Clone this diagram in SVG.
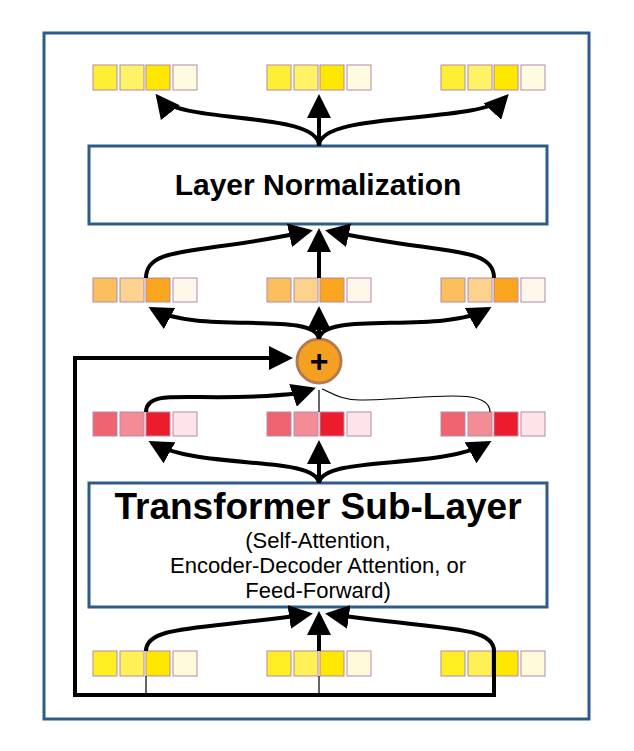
<svg xmlns="http://www.w3.org/2000/svg" width="634" height="751" viewBox="0 0 634 751">
<style>
.box{fill:#fff;stroke:#2e5c8a;stroke-width:3}
.sq{stroke:#b48aa8;stroke-width:1}
.c{fill:none;stroke:#000;stroke-width:4}
.t{fill:none;stroke:#000;stroke-width:1.2}
text{font-family:"Liberation Sans",Arial,sans-serif;fill:#000}
</style>
<defs>
<marker id="a" markerWidth="6" markerHeight="6" refX="5" refY="3" orient="auto" markerUnits="strokeWidth"><path d="M0,0 L6,3 L0,6 z" fill="#000"/></marker>
</defs>
<rect x="0" y="0" width="634" height="751" fill="#fff"/>
<rect class="box" x="44" y="33" width="545" height="686"/>
<g id="vectors">
<g id="top-row">
<rect class="sq" x="93" y="65" width="24" height="25" fill="#ffee33"/><rect class="sq" x="120" y="65" width="24" height="25" fill="#fff266"/><rect class="sq" x="146" y="65" width="24" height="25" fill="#ffe800"/><rect class="sq" x="173" y="65" width="24" height="25" fill="#fffbe0"/>
<rect class="sq" x="267" y="65" width="24" height="25" fill="#ffee33"/><rect class="sq" x="294" y="65" width="24" height="25" fill="#fff266"/><rect class="sq" x="320" y="65" width="24" height="25" fill="#ffe800"/><rect class="sq" x="347" y="65" width="24" height="25" fill="#fffbe0"/>
<rect class="sq" x="441" y="65" width="24" height="25" fill="#ffee33"/><rect class="sq" x="468" y="65" width="24" height="25" fill="#fff266"/><rect class="sq" x="494" y="65" width="24" height="25" fill="#ffe800"/><rect class="sq" x="521" y="65" width="24" height="25" fill="#fffbe0"/>
</g>
<g id="orange-row">
<rect class="sq" x="93" y="278" width="24" height="24" fill="#fbbf5e"/><rect class="sq" x="120" y="278" width="24" height="24" fill="#fdd28e"/><rect class="sq" x="146" y="278" width="24" height="24" fill="#f9a51e"/><rect class="sq" x="173" y="278" width="24" height="24" fill="#fff7ea"/>
<rect class="sq" x="267" y="278" width="24" height="24" fill="#fbbf5e"/><rect class="sq" x="294" y="278" width="24" height="24" fill="#fdd28e"/><rect class="sq" x="320" y="278" width="24" height="24" fill="#f9a51e"/><rect class="sq" x="347" y="278" width="24" height="24" fill="#fff7ea"/>
<rect class="sq" x="441" y="278" width="24" height="24" fill="#fbbf5e"/><rect class="sq" x="468" y="278" width="24" height="24" fill="#fdd28e"/><rect class="sq" x="494" y="278" width="24" height="24" fill="#f9a51e"/><rect class="sq" x="521" y="278" width="24" height="24" fill="#fff7ea"/>
</g>
<g id="red-row">
<rect class="sq" x="93" y="412" width="24" height="24" fill="#f06470"/><rect class="sq" x="120" y="412" width="24" height="24" fill="#f48c95"/><rect class="sq" x="146" y="412" width="24" height="24" fill="#ec1c2c"/><rect class="sq" x="173" y="412" width="24" height="24" fill="#fde4e8"/>
<rect class="sq" x="267" y="412" width="24" height="24" fill="#f06470"/><rect class="sq" x="294" y="412" width="24" height="24" fill="#f48c95"/><rect class="sq" x="320" y="412" width="24" height="24" fill="#ec1c2c"/><rect class="sq" x="347" y="412" width="24" height="24" fill="#fde4e8"/>
<rect class="sq" x="441" y="412" width="24" height="24" fill="#f06470"/><rect class="sq" x="468" y="412" width="24" height="24" fill="#f48c95"/><rect class="sq" x="494" y="412" width="24" height="24" fill="#ec1c2c"/><rect class="sq" x="521" y="412" width="24" height="24" fill="#fde4e8"/>
</g>
<g id="bottom-row">
<rect class="sq" x="93" y="651" width="24" height="25" fill="#ffee22"/><rect class="sq" x="120" y="651" width="24" height="25" fill="#fff055"/><rect class="sq" x="146" y="651" width="24" height="25" fill="#ffe800"/><rect class="sq" x="173" y="651" width="24" height="25" fill="#fffad8"/>
<rect class="sq" x="267" y="651" width="24" height="25" fill="#ffee22"/><rect class="sq" x="294" y="651" width="24" height="25" fill="#fff055"/><rect class="sq" x="320" y="651" width="24" height="25" fill="#ffe800"/><rect class="sq" x="347" y="651" width="24" height="25" fill="#fffad8"/>
<rect class="sq" x="441" y="651" width="24" height="25" fill="#ffee22"/><rect class="sq" x="468" y="651" width="24" height="25" fill="#fff055"/><rect class="sq" x="494" y="651" width="24" height="25" fill="#ffe800"/><rect class="sq" x="521" y="651" width="24" height="25" fill="#fffad8"/>
</g>
</g>
<g id="layer-norm">
<rect class="box" x="89" y="146" width="458" height="78"/>
<text x="318" y="195" font-size="30" font-weight="bold" text-anchor="middle">Layer Normalization</text>
</g>
<g id="sub-layer">
<rect class="box" x="89" y="483" width="458" height="124"/>
<text x="318" y="519" font-size="37" font-weight="bold" text-anchor="middle">Transformer Sub-Layer</text>
<text x="318" y="548" font-size="22" text-anchor="middle">(Self-Attention,</text>
<text x="318" y="573" font-size="22" text-anchor="middle">Encoder-Decoder Attention, or</text>
<text x="318" y="598" font-size="22" text-anchor="middle">Feed-Forward)</text>
</g>
<g id="plus">
<circle cx="319" cy="361" r="22" fill="#f5a020" stroke="#b57a50" stroke-width="3"/>
<text x="319" y="372" font-size="32" font-weight="bold" text-anchor="middle">+</text>
</g>
<g id="connectors">
<path class="c" d="M319,146 V98" marker-end="url(#a)"/>
<path class="c" d="M319,146 C319,110 180,125 158,97" marker-end="url(#a)"/>
<path class="c" d="M319,146 C319,110 480,125 506,97" marker-end="url(#a)"/>
<path class="c" d="M319,278 V232" marker-end="url(#a)"/>
<path class="c" d="M146,278 C146,245 200,255 309,231" marker-end="url(#a)"/>
<path class="c" d="M494,278 C494,245 440,255 329,231" marker-end="url(#a)"/>
<path class="c" d="M319,339 V310" marker-end="url(#a)"/>
<path class="c" d="M319,339 C315,310 200,335 152,309" marker-end="url(#a)"/>
<path class="c" d="M319,339 C323,310 440,335 488,309" marker-end="url(#a)"/>
<path class="c" d="M146,412 C146,385 200,405 300,393 L312,389" marker-end="url(#a)"/>
<path class="t" d="M319,412 V390"/>
<path class="t" d="M490,412 C490,385 420,400 360,400 C340,400 330,392 322,389"/>
<path class="c" d="M319,483 V444" marker-end="url(#a)"/>
<path class="c" d="M319,483 C315,455 200,470 152,443" marker-end="url(#a)"/>
<path class="c" d="M319,483 C323,455 440,470 488,443" marker-end="url(#a)"/>
<path class="c" d="M319,651 V615" marker-end="url(#a)"/>
<path class="c" d="M146,651 C146,625 200,630 309,614" marker-end="url(#a)"/>
<path class="c" d="M494,651 C494,625 440,630 329,614" marker-end="url(#a)"/>
<path class="t" d="M146,676 V695 M319,676 V695"/>
<path class="c" d="M494,651 V695 H75 V358 H289" marker-end="url(#a)"/>
</g>
</svg>
